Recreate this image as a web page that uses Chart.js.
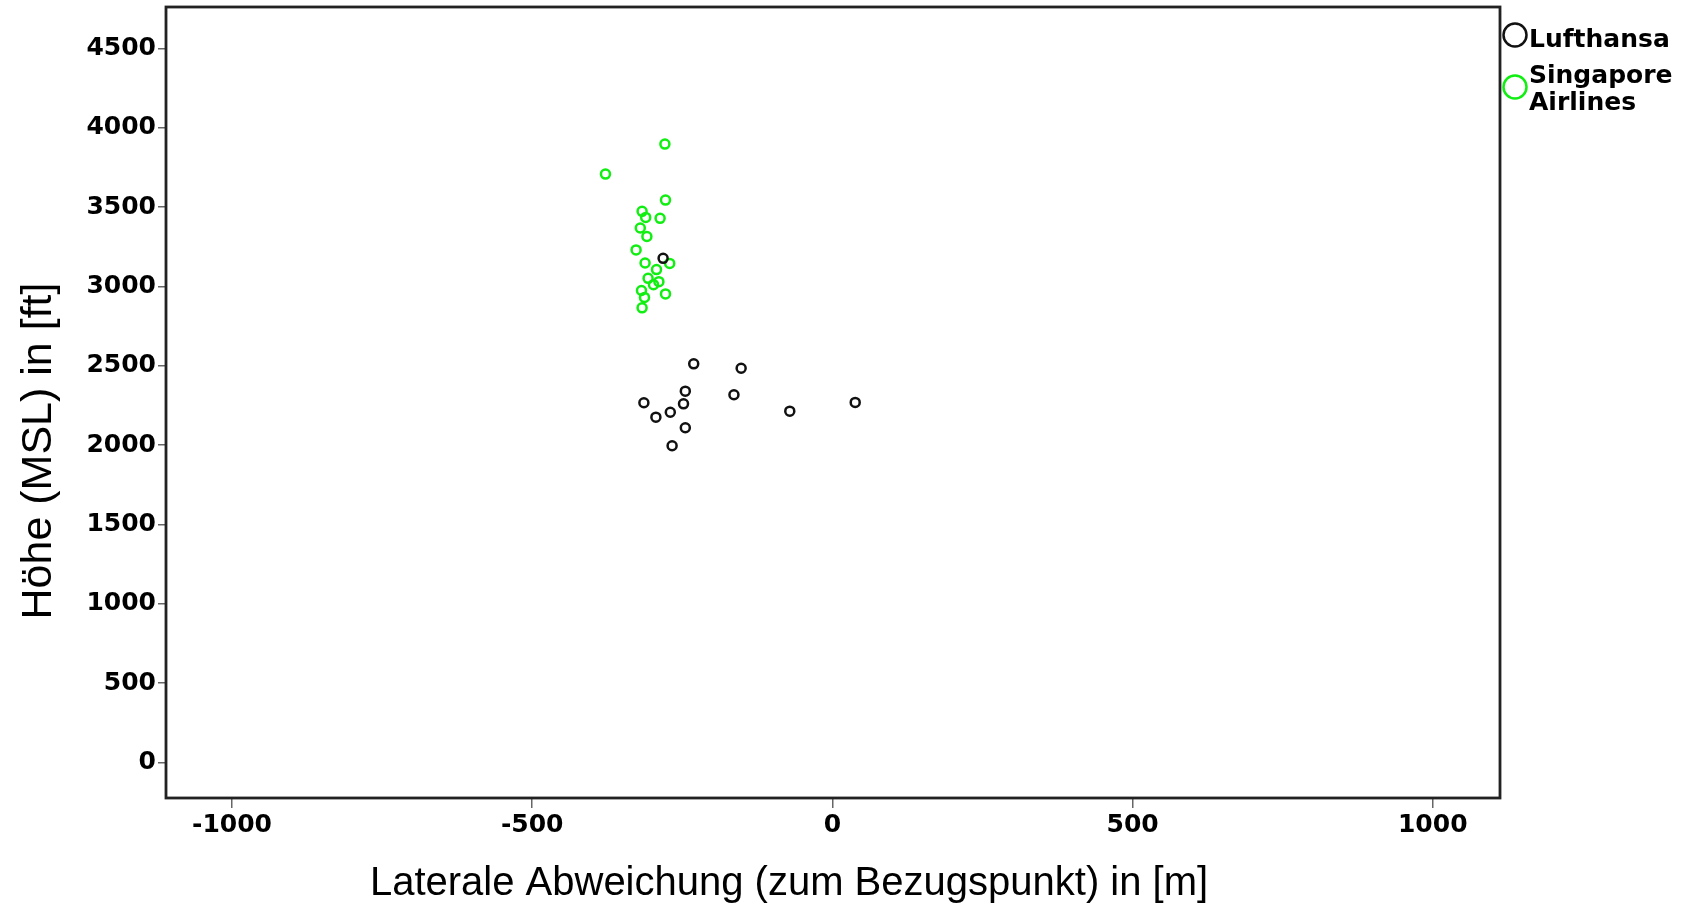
<!DOCTYPE html>
<html>
<head>
<meta charset="utf-8">
<script src="https://cdn.jsdelivr.net/npm/chart.js@4.4.1/dist/chart.umd.min.js"></script>
<style>
  html, body { margin: 0; padding: 0; background: #fff; }
  #wrap { width: 1689px; height: 906px; position: relative; }
</style>
</head>
<body>
<div id="wrap"><canvas id="scatter"></canvas></div>
<script>
// ------------------ Data ------------------
const seriesNames = ["Lufthansa", "Singapore Airlines"];
const legendLines = [["Lufthansa"], ["Singapore", "Airlines"]];
const seriesColors = ["#111111", "#11ee11"];

// lateral deviation [m] / altitude [ft]
const lufthansaX = [-231, -152, -245, -164, -314, -248, -270, -294, -71, 38, -245, -267, -282];
const lufthansaY = [2512, 2484, 2340, 2317, 2267, 2260, 2207, 2176, 2214, 2269, 2109, 1996, 3177];

const singaporeX = [-279, -378, -278, -317, -311, -287, -320, -309, -327, -312, -271, -293, -307, -289, -298, -278, -318, -313, -317];
const singaporeY = [3897, 3708, 3544, 3473, 3435, 3429, 3368, 3315, 3230, 3148, 3145, 3106, 3051, 3030, 3011, 2953, 2974, 2931, 2865];

const xTicks = [-1000, -500, 0, 500, 1000];
const yTicks = [0, 500, 1000, 1500, 2000, 2500, 3000, 3500, 4000, 4500];

const xTitle = "Laterale Abweichung (zum Bezugspunkt) in [m]";
const yTitle = "Höhe (MSL) in [ft]";

const toPoints = (xs, ys) => xs.map((x, i) => ({ x, y: ys[i] }));

// ------------------ Frame, titles, legend ------------------
const framePlugin = {
  id: "frame",
  afterDraw(chart) {
    const { ctx, chartArea: a } = chart;
    ctx.save();
    ctx.strokeStyle = "#222";
    ctx.lineWidth = 2.8;
    ctx.strokeRect(a.left, a.top, a.right - a.left, a.bottom - a.top);

    // axis titles
    ctx.fillStyle = "#000";
    ctx.font = "40px 'Liberation Sans', Arial, sans-serif";
    ctx.textAlign = "center";
    ctx.textBaseline = "alphabetic";
    ctx.fillText(xTitle, 789, 895);

    ctx.save();
    ctx.translate(51, 451);
    ctx.rotate(-Math.PI / 2);
    ctx.font = "43px 'Liberation Sans', Arial, sans-serif";
    ctx.fillText(yTitle, 0, 0);
    ctx.restore();

    // legend
    const circleY = [35, 87];
    const textY = [[47], [83, 110]];
    ctx.lineWidth = 2.5;
    ctx.font = "bold 25px 'DejaVu Sans', sans-serif";
    ctx.textAlign = "left";
    chart.data.datasets.forEach((ds, i) => {
      ctx.beginPath();
      ctx.strokeStyle = ds.borderColor;
      ctx.arc(1515, circleY[i], 11.5, 0, Math.PI * 2);
      ctx.stroke();
      ctx.fillStyle = "#000";
      legendLines[i].forEach((line, j) => ctx.fillText(line, 1529, textY[i][j]));
    });
    ctx.restore();
  }
};

const tickFont = { family: "'DejaVu Sans', sans-serif", size: 25, weight: "bold" };
const plain = v => String(v);

new Chart(document.getElementById("scatter").getContext("2d"), {
  type: "scatter",
  data: {
    datasets: [
      {
        label: seriesNames[0],
        data: toPoints(lufthansaX, lufthansaY),
        borderColor: seriesColors[0],
        backgroundColor: "rgba(0,0,0,0)",
        pointRadius: 4.5,
        borderWidth: 2.5
      },
      {
        label: seriesNames[1],
        data: toPoints(singaporeX, singaporeY),
        borderColor: seriesColors[1],
        backgroundColor: "rgba(0,0,0,0)",
        pointRadius: 4.5,
        borderWidth: 2.5
      }
    ]
  },
  options: {
    responsive: true,
    maintainAspectRatio: false,
    animation: false,
    layout: { padding: { top: 6, right: 189, bottom: 0, left: 0 } },
    plugins: {
      legend: { display: false },
      tooltip: { enabled: false }
    },
    scales: {
      x: {
        type: "linear",
        min: -1110,
        max: 1112,
        afterBuildTicks: s => { s.ticks = xTicks.map(v => ({ value: v })); },
        afterFit: s => { s.height = 108; s.paddingLeft = 0; s.paddingRight = 0; },
        ticks: { color: "#000", font: tickFont, padding: 2, autoSkip: false, maxRotation: 0, callback: plain },
        grid: { drawOnChartArea: false, drawTicks: true, tickLength: 10, color: "#666", lineWidth: 1.5 },
        border: { display: false }
      },
      y: {
        type: "linear",
        min: -224,
        max: 4761,
        afterBuildTicks: s => { s.ticks = yTicks.map(v => ({ value: v })); },
        afterFit: s => { s.width = 166; s.paddingTop = 0; s.paddingBottom = 0; },
        ticks: { color: "#000", font: tickFont, padding: 2, autoSkip: false, callback: plain },
        grid: { drawOnChartArea: false, drawTicks: true, tickLength: 8, color: "#666", lineWidth: 1.5 },
        border: { display: false }
      }
    }
  },
  plugins: [framePlugin]
});
</script>
</body>
</html>
